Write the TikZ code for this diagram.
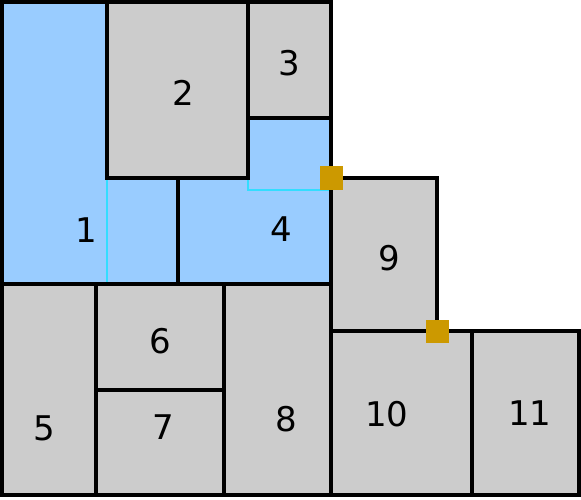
\documentclass[tikz,border=0pt]{standalone}
\usepackage{fontspec}
\setmainfont{DejaVu Sans}
\usepackage{tikz}
\usetikzlibrary{positioning}
\definecolor{roomgrey}{HTML}{CCCCCC}
\definecolor{roomblue}{HTML}{99CCFF}
\definecolor{seamcyan}{HTML}{33DDFF}
\definecolor{doorgold}{HTML}{CC9900}

\begin{document}
\begin{tikzpicture}[x=1pt,y=-1pt,
room/.style={draw=black,line width=3.2pt,fill=roomgrey},
wall/.style={draw=black,line width=3.2pt},
seam/.style={draw=seamcyan,line width=1.2pt},
door/.style={fill=doorgold,draw=none,minimum size=23pt,inner sep=0pt},
num/.style={font=\fontsize{34}{40}\selectfont,inner sep=0pt}]
\useasboundingbox (0,0) rectangle (581,500);
% blue area (1 and 4)
\fill[roomblue] (2,2) -- (107,2) -- (107,178) -- (248,178) -- (248,118)
    -- (331,118) -- (331,284) -- (2,284) -- cycle;
\draw[seam] (107,178) -- (107,284);
\draw[seam] (248,178) -- (248,190) -- (331,190);
\draw[wall] (107,2) -- (2,2) -- (2,284) -- (331,284) -- (331,118);
\draw[wall] (178,178) -- (178,284);
% grey rooms
\draw[room] (107,2) rectangle (248,178);
\draw[room] (248,2) rectangle (331,118);
\draw[room] (331,178) rectangle (437,331);
\draw[room] (2,284) rectangle (96,495);
\draw[room] (96,284) rectangle (224,390);
\draw[room] (96,390) rectangle (224,495);
\draw[room] (224,284) rectangle (331,495);
\draw[room] (331,331) rectangle (472,495);
\draw[room] (472,331) rectangle (579,495);
% doors
\node (door49) [door] at (331,178) {};
\node (door910) [door] at (437,331) {};
% numbers
\node (n1) [num] at (86,230) {1};
\node (n2) [num] at (183,93) {2};
\node (n3) [num] at (289,63) {3};
\node (n4) [num] at (281,229) {4};
\node (n5) [num] at (44,428) {5};
\node (n6) [num] at (160,341) {6};
\node (n7) [num] at (163,427) {7};
\node (n8) [num] at (286,419) {8};
\node (n9) [num] at (389,258) {9};
\node (n10) [num] at (387,414) {10};
\node (n11) [num] at (530,413) {11};
\end{tikzpicture}
\end{document}
